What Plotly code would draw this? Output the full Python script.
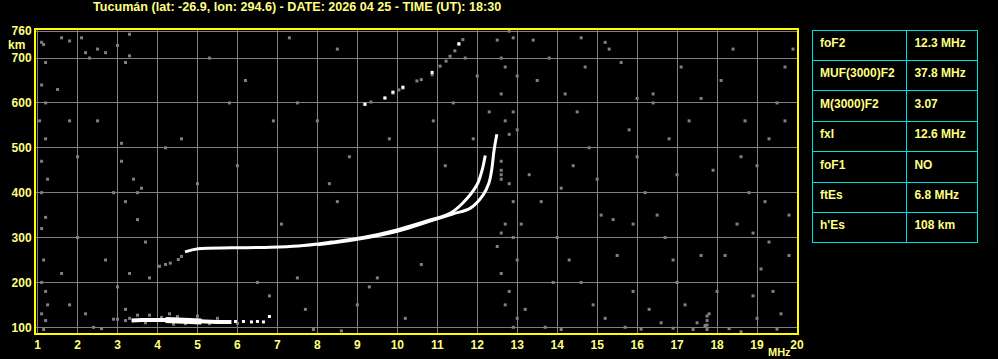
import plotly.graph_objects as go

W, H = 998, 359
# plot area in pixels (reference)
X0, X1, Y0, Y1 = 36, 797, 30, 333

title_text = "Tucumán (lat: -26.9, lon: 294.6) - DATE: 2026 04 25 - TIME (UT): 18:30"

x_ticks = list(range(1, 21))
y_ticks = [100, 200, 300, 400, 500, 600, 700, 760]

# F-layer ordinary trace (MHz, km)
o_freq = [4.69, 5.02, 5.87, 6.69, 7.52, 8.37, 9.14, 9.99, 10.82, 11.32, 11.64, 11.99, 12.12, 12.2]
o_height = [268, 275, 277, 278, 281, 290, 300, 317, 339, 354, 377, 417, 450, 483]
# F-layer extraordinary trace
x_freq = [8.0, 9.0, 10.0, 10.8, 11.4, 11.82, 12.14, 12.29, 12.36, 12.42, 12.49]
x_height = [284, 296, 314, 336, 353, 365, 394, 421, 450, 494, 530]
# F trace leading dots
lead_freq = [4.05, 4.2, 4.32, 4.52, 4.6]
lead_height = [236, 240, 243, 251, 258]

# Es trace
es_freq = [3.35, 3.6, 4.0, 4.4, 4.8, 5.2, 5.6, 5.85]
es_height = [115, 116, 116, 116, 114, 113, 112, 112]
es_blob_freq = [4.2, 4.5, 4.8, 5.1]
es_blob_height = [116, 115, 114, 113]
es_dot_freq = [5.95, 6.15, 6.35, 6.5, 6.65, 6.8]
es_dot_height = [113, 113, 112, 113, 112, 124]
es_gray_freq = [3.5, 3.8, 4.1, 4.3, 4.5, 5.0, 5.5, 6.0, 4.7, 5.3, 3.7, 4.4, 3.2, 3.0, 2.9, 3.3]
es_gray_height = [127, 127, 122, 130, 124, 125, 120, 109, 108, 108, 110, 107, 115, 118, 118, 120]

# multi-hop F trace
mh_freq = [9.19, 9.34, 9.69, 9.89, 10.04, 10.14, 10.49, 10.6, 10.87, 11.07, 11.22, 11.32, 11.44, 11.54, 11.64]
mh_height = [597, 602, 611, 622, 629, 633, 649, 652, 663, 682, 693, 704, 716, 730, 741]
mh_white_freq = [9.19, 9.69, 9.89, 10.14, 10.87, 11.54]
mh_white_height = [597, 611, 624, 635, 668, 732]

# background noise (MHz, km)
noise_freq = [1.1, 1.15, 1.6, 1.8, 2.1, 2.2, 2.5, 2.7, 3.0, 3.3, 3.2, 3.3, 1.2, 2.3,
              1.1, 1.2, 1.05, 1.2, 1.1, 1.25, 1.1, 1.2, 1.1, 1.15, 1.1, 1.2, 1.25, 1.1, 1.2, 1.15,
              1.5, 1.8, 2.0, 2.5, 1.6, 1.8, 2.2, 2.4, 2.6, 2.0, 2.7, 3.0, 3.3,
              3.4, 3.5, 3.6, 3.2, 3.5, 3.7, 3.2, 3.8, 3.1,
              4.2, 4.6, 5.0, 5.3, 6.0, 6.5, 6.8, 7.1, 7.5, 7.5, 7.3, 8.5, 8.0, 8.8, 8.5, 9.0, 9.5, 10.2, 7.9, 8.6,
              12.5, 12.8, 12.9, 12.6, 12.7, 13.0, 12.6, 12.9, 12.7, 13.0, 12.8, 12.6, 12.8, 12.9, 12.7, 12.6,
              12.9, 12.5, 13.0, 12.6, 12.8, 12.7, 13.0, 12.9,
              13.5, 13.8, 14.2, 14.5, 14.8, 15.0, 15.3, 15.6, 15.8, 16.0, 16.2, 16.5, 16.7, 16.9, 17.0, 17.2,
              17.5, 17.8, 18.0, 18.2, 18.5, 18.8, 19.0, 19.3, 19.5, 19.7, 19.9, 14.0, 14.3, 14.6, 14.9, 15.2,
              15.5, 15.9, 16.3, 16.6, 17.3, 17.6, 18.1, 18.4, 18.7, 19.1, 19.4, 19.6, 19.8, 13.3, 13.6, 13.9,
              14.4, 15.1, 16.8, 17.9, 18.9, 19.2, 13.2, 13.7, 14.1, 16.1, 17.4, 18.3, 19.5, 16.9, 17.7, 15.7,
              17.75, 17.75, 17.75, 17.75, 12.6, 12.6, 12.6, 10.9, 11.4, 11.9, 12.3, 12.0, 11.7,
              2.9, 3.1, 5.8, 6.2, 6.9, 7.7, 8.3, 9.3, 9.8, 10.6, 11.2, 14.7, 15.4, 16.4, 18.6, 19.8,
              13.4, 14.6, 15.2, 16.4, 17.1, 18.6, 19.3, 14.1, 15.9, 17.0, 18.9, 19.7, 13.1, 16.0, 17.6, 19.0]
noise_height = [735, 730, 745, 738, 745, 712, 720, 712, 728, 753, 690, 705, 690, 700,
                640, 600, 560, 520, 470, 430, 400, 345, 320, 250, 200, 180, 150, 130, 115, 95,
                630, 560, 480, 560, 220, 150, 130, 100, 97, 300, 250, 190, 220,
                430, 400, 410, 380, 340, 290, 140, 210, 510,
                500, 520, 420, 700, 460, 200, 170, 330, 210, 600, 745, 720, 560, 480, 380, 150, 210, 120, 95, 92,
                740, 760, 745, 700, 680, 660, 620, 580, 560, 540, 530, 470, 420, 380, 330, 310,
                300, 280, 250, 220, 180, 150, 120, 100,
                650, 700, 620, 580, 500, 430, 720, 690, 540, 480, 400, 350, 300, 250, 200, 150,
                110, 130, 180, 260, 330, 400, 460, 520, 600, 680, 720, 300, 250, 200, 150, 120,
                260, 180, 140, 110, 560, 610, 650, 720, 560, 230, 180, 130, 260, 440, 380, 200,
                460, 350, 520, 450, 310, 380, 140, 100, 95, 96, 95, 97, 96, 98, 104, 100,
                95, 105, 115, 125, 430, 440, 450, 560, 600, 520, 580, 660, 700,
                400, 470, 600, 650, 560, 140, 420, 190, 520, 240, 460, 680, 340, 620, 90, 350,
                740, 745, 735, 600, 680, 480, 290, 410, 330, 440, 170, 560, 330, 610, 260, 120]

table_labels = ["foF2", "MUF(3000)F2", "M(3000)F2", "fxI", "foF1", "ftEs", "h'Es"]
table_values = ["12.3 MHz", "37.8 MHz", "3.07", "12.6 MHz", "NO", "6.8 MHz", "108 km"]

YEL = "#ffff80"
GRAY = "#808080"
FONT = "Liberation Sans, Arial, sans-serif"

fig = go.Figure()


def dots(xs, ys, color, size=3):
    fig.add_trace(go.Scatter(x=xs, y=ys, mode="markers",
                             marker=dict(symbol="square", size=size, color=color, line=dict(width=0)),
                             hoverinfo="skip", showlegend=False, cliponaxis=True))


def line(xs, ys, color, width):
    fig.add_trace(go.Scatter(x=xs, y=ys, mode="lines", line=dict(color=color, width=width, shape="spline"),
                             hoverinfo="skip", showlegend=False))


dots(noise_freq, noise_height, GRAY)
dots(es_gray_freq, es_gray_height, GRAY)
dots(lead_freq, lead_height, GRAY)
dots(mh_freq, mh_height, GRAY)
dots(mh_white_freq, mh_white_height, "#ffffff")
line(es_freq, es_height, "#ffffff", 4)
line(es_blob_freq, es_blob_height, "#ffffff", 6)
dots(es_dot_freq, es_dot_height, "#ffffff")
line(o_freq, o_height, "#ffffff", 3)
line(x_freq, x_height, "#ffffff", 3)

nb = lambda s: s.replace(" ", "\u00a0")
tfont = dict(family=FONT, size=12, color=YEL, weight="bold")

# table
fig.add_trace(go.Table(
    domain=dict(x=[812 / W, 978 / W], y=[(H - 245) / H, (H - 30) / H]),
    columnwidth=[95, 71],
    header=dict(values=[nb(table_labels[0]), nb(table_values[0])], fill_color="black",
                line=dict(color="#00e0e0", width=1), align="left", height=30.4, font=tfont),
    cells=dict(values=[[nb(s) for s in table_labels[1:]], [nb(s) for s in table_values[1:]]],
               fill_color="black", line=dict(color="#00e0e0", width=1), align="left",
               height=30.4, font=tfont),
))

fig.update_layout(
    width=W, height=H,
    margin=dict(l=0, r=0, t=0, b=0, autoexpand=False),
    paper_bgcolor="black", plot_bgcolor="black",
    font=dict(family=FONT, size=12, color=YEL, weight="bold"),
    xaxis=dict(domain=[X0 / W, X1 / W], range=[0.96, 20.0], tickvals=x_ticks, automargin=False,
               showgrid=True, gridcolor=GRAY, gridwidth=1, zeroline=False,
               showline=True, linecolor="#ffff00", linewidth=2, mirror=True,
               ticks="", tickfont=dict(family=FONT, size=12, color=YEL, weight="bold")),
    yaxis=dict(domain=[(H - Y1) / H, (H - Y0) / H], range=[87.3, 762.5], tickvals=y_ticks, automargin=False,
               showgrid=True, gridcolor=GRAY, gridwidth=1, zeroline=False,
               showline=True, linecolor="#ffff00", linewidth=2, mirror=True,
               ticks="", tickfont=dict(family=FONT, size=12, color=YEL, weight="bold")),
    annotations=[
        dict(text=title_text, xref="paper", yref="paper", x=91 / W, y=1 - 7 / H,
             xanchor="left", yanchor="middle", showarrow=False,
             font=dict(family=FONT, size=12.6, color=YEL, weight="bold")),
        dict(text="km", xref="paper", yref="paper", x=6 / W, y=1 - 45 / H,
             xanchor="left", yanchor="middle", showarrow=False,
             font=dict(family=FONT, size=12, color=YEL, weight="bold")),
        dict(text="MHz", xref="paper", yref="paper", x=766 / W, y=1 - 352 / H,
             xanchor="left", yanchor="middle", showarrow=False,
             font=dict(family=FONT, size=11, color=YEL, weight="bold")),
    ],
)

fig.write_html("out.html")
